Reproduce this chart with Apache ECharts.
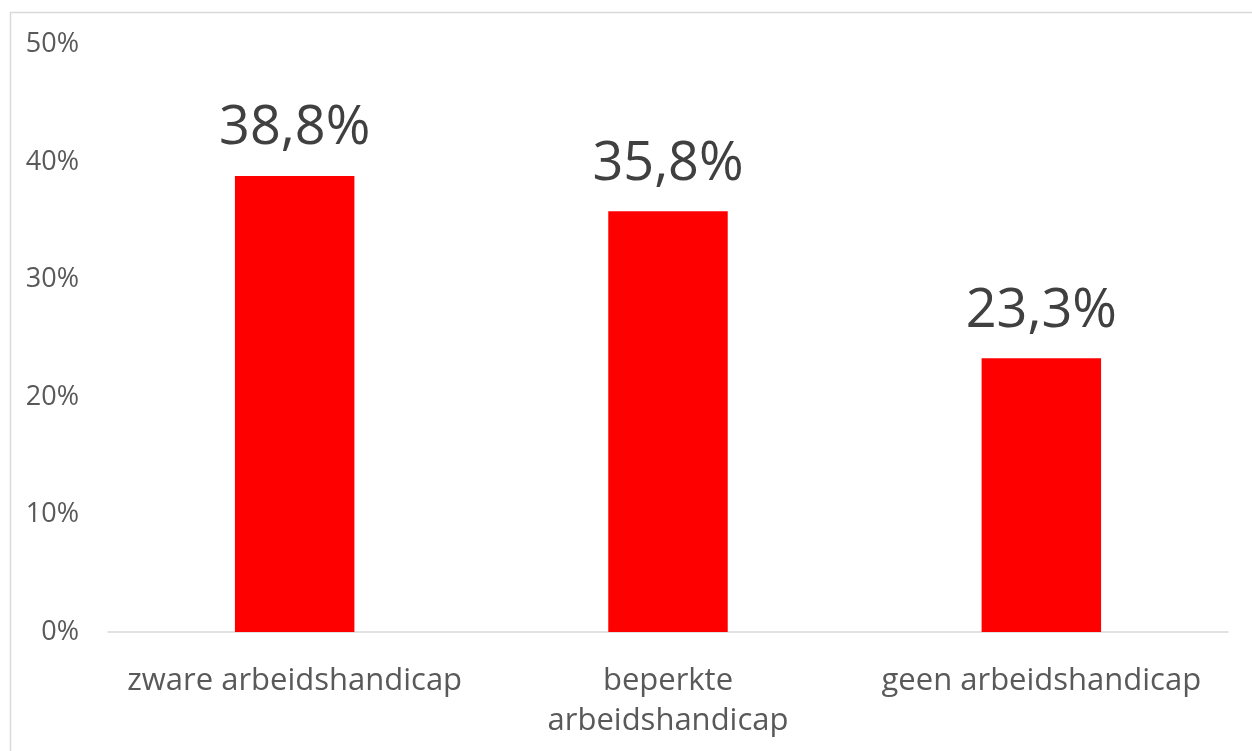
<!DOCTYPE html>
<html>
<head>
<meta charset="utf-8">
<script src="https://cdn.jsdelivr.net/npm/echarts@6/dist/echarts.min.js"></script>
<style>
  html, body { margin: 0; padding: 0; background: #ffffff; }
  #chart { width: 1252px; height: 751px; }
</style>
</head>
<body>
<div id="chart"></div>
<script>
// Share per group, in percent
const categories = ['zware arbeidshandicap', 'beperkte\narbeidshandicap', 'geen arbeidshandicap'];
const values = [38.8, 35.8, 23.3];
const yTicks = { min: 0, max: 50, interval: 10 };

const fontFamily = '"Open Sans", "Noto Sans", sans-serif';
const chart = echarts.init(document.getElementById('chart'), null, { renderer: 'canvas' });

chart.setOption({
  animation: false,
  backgroundColor: '#ffffff',
  graphic: [{
    type: 'rect',
    shape: { x: 10.5, y: 12.5, width: 1300, height: 800 },
    style: { fill: 'none', stroke: '#d9d9d9', lineWidth: 1.5 },
    silent: true
  }],
  grid: { left: 108, right: 24, top: 44.5, bottom: 119, containLabel: false },
  xAxis: {
    type: 'category',
    data: categories,
    axisLine: { lineStyle: { color: '#d9d9d9', width: 1.5 } },
    axisTick: { show: false },
    axisLabel: {
      color: '#595959',
      fontFamily: fontFamily,
      fontSize: 31,
      lineHeight: 40,
      margin: 29,
      interval: 0
    }
  },
  yAxis: {
    type: 'value',
    min: yTicks.min,
    max: yTicks.max,
    interval: yTicks.interval,
    axisLine: { show: false },
    axisTick: { show: false },
    splitLine: { show: false },
    axisLabel: {
      color: '#595959',
      fontFamily: fontFamily,
      fontSize: 27,
      margin: 29,
      formatter: '{value}%'
    }
  },
  series: [{
    type: 'bar',
    data: values,
    barWidth: '32%',
    itemStyle: { color: '#ff0000' },
    label: {
      show: true,
      position: 'top',
      distance: 20,
      color: '#404040',
      fontFamily: fontFamily,
      fontSize: 54,
      lineHeight: 54,
      formatter: p => p.value.toFixed(1).replace('.', ',') + '%'
    }
  }]
});
</script>
</body>
</html>
